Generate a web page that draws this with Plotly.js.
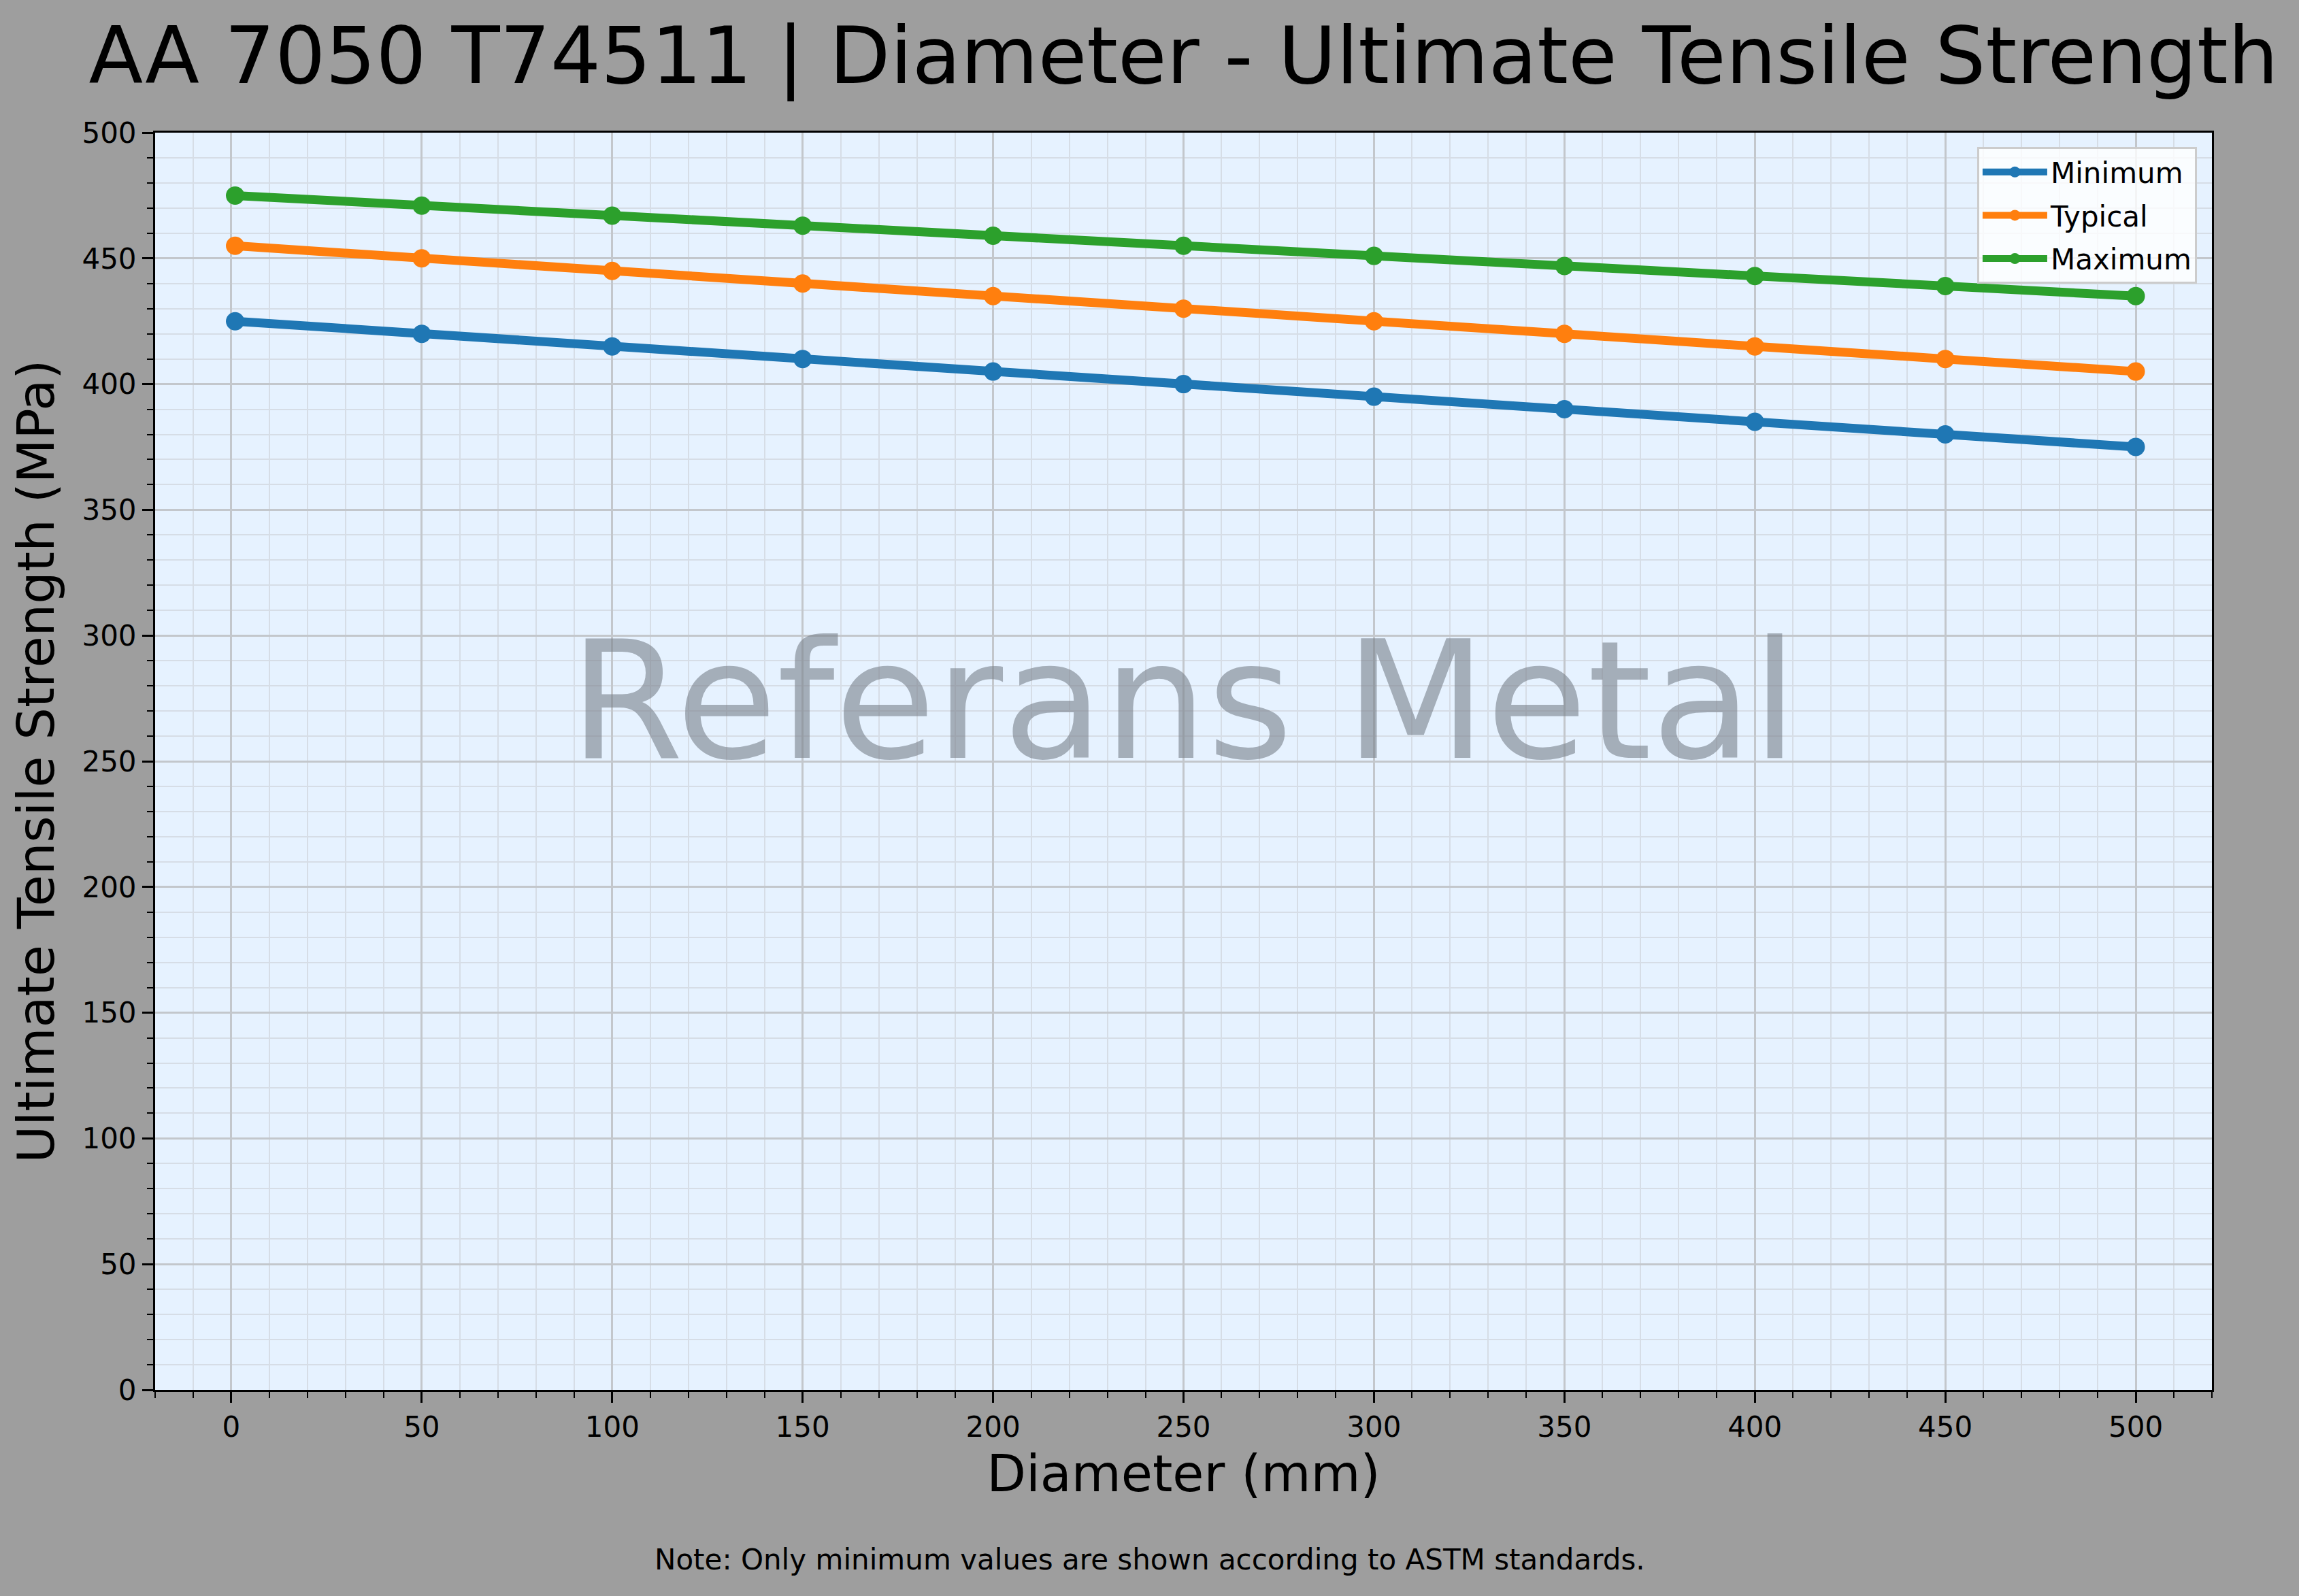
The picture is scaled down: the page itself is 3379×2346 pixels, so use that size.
<!DOCTYPE html>
<html>
<head>
<meta charset="utf-8">
<script src="https://cdn.plot.ly/plotly-3.0.1.min.js"></script>
<style>html,body{margin:0;padding:0;background:#9e9e9e;}#chart{width:3379px;height:2346px;}</style>
</head>
<body>
<div id="chart"></div>
<script>
const diameters = [1, 50, 100, 150, 200, 250, 300, 350, 400, 450, 500];
const minimumUTS = [425, 420, 415, 410, 405, 400, 395, 390, 385, 380, 375];
const typicalUTS = [455, 450, 445, 440, 435, 430, 425, 420, 415, 410, 405];
const maximumUTS = [475, 471, 467, 463, 459, 455, 451, 447, 443, 439, 435];
const seriesNames = ["Minimum", "Typical", "Maximum"];
const seriesColors = ["#1f77b4", "#ff7f0e", "#2ca02c"];
const titleText = "AA 7050 T74511 | Diameter - Ultimate Tensile Strength";
const xTitle = "Diameter (mm)";
const yTitle = "Ultimate Tensile Strength (MPa)";
const noteText = "Note: Only minimum values are shown according to ASTM standards.";
const watermarkText = "Referans Metal";

const FONT = "DejaVu Sans, Liberation Sans, sans-serif";
const seriesValues = [minimumUTS, typicalUTS, maximumUTS];
const traces = seriesValues.map((vals, i) => ({
  type: "scatter",
  mode: "lines+markers",
  name: seriesNames[i],
  legendgroup: "g" + i,
  x: diameters,
  y: vals,
  line: {color: seriesColors[i], width: 13},
  marker: {color: seriesColors[i], size: 27}
}));

const axisCommon = {
  showline: true,
  linecolor: "#000000",
  linewidth: 3,
  mirror: true,
  ticks: "outside",
  ticklen: 16,
  tickwidth: 3,
  tickcolor: "#000000",
  tickfont: {family: FONT, size: 42, color: "#000000"},
  showgrid: true,
  gridcolor: "#c3c7cc",
  gridwidth: 3,
  zeroline: false,
  minor: {dtick: 10, ticks: "outside", ticklen: 9, tickwidth: 2, tickcolor: "#000000",
          showgrid: true, gridcolor: "#d6dde6", gridwidth: 2}
};

const layout = {
  width: 3379,
  height: 2346,
  paper_bgcolor: "#9e9e9e",
  plot_bgcolor: "#e6f2ff",
  margin: {l: 228, r: 128, t: 195, b: 303},
  font: {family: FONT, color: "#000000"},
  title: {
    text: titleText,
    font: {family: FONT, size: 116.5, color: "#000000"},
    x: 0.5, xref: "paper", xanchor: "center",
    y: 0.9655, yref: "container", yanchor: "middle"
  },
  xaxis: Object.assign({}, axisCommon, {
    range: [-20, 520],
    tickmode: "linear", tick0: 0, dtick: 50,
    title: {text: xTitle, font: {family: FONT, size: 75, color: "#000000"}, standoff: 14}
  }),
  yaxis: Object.assign({}, axisCommon, {
    range: [0, 500],
    tickmode: "linear", tick0: 0, dtick: 50,
    title: {text: yTitle, font: {family: FONT, size: 75, color: "#000000"}, standoff: 17}
  }),
  legend: {
    x: 0.9927, y: 0.9886, xanchor: "right", yanchor: "top",
    bgcolor: "rgba(255,255,255,0.8)",
    bordercolor: "#cccccc",
    borderwidth: 3,
    font: {family: FONT, size: 42, color: "#000000"},
    itemwidth: 95,
    tracegroupgap: 6
  },
  showlegend: true,
  annotations: [
    {
      text: watermarkText, xref: "paper", yref: "paper", x: 0.5, y: 0.548,
      xanchor: "center", yanchor: "middle", showarrow: false,
      font: {family: FONT, size: 241, color: "rgba(120,128,138,0.6)"}
    },
    {
      text: noteText, xref: "paper", yref: "paper", x: 0.4835, y: -0.135,
      xanchor: "center", yanchor: "middle", showarrow: false,
      font: {family: FONT, size: 42, color: "#000000"}
    }
  ]
};

Plotly.newPlot("chart", traces, layout, {displayModeBar: false, staticPlot: true});
</script>
</body>
</html>
